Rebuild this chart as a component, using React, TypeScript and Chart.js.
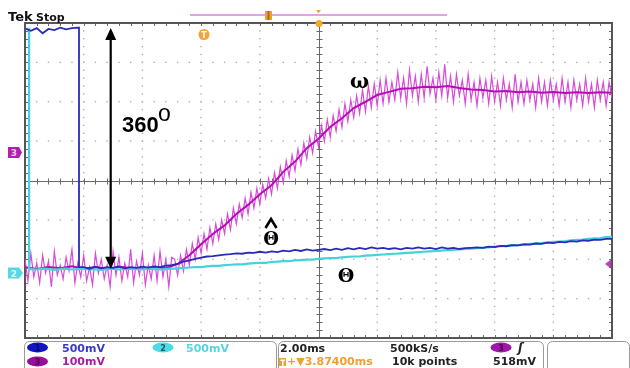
import React, { useEffect, useRef } from "react";
import { Chart, registerables } from "chart.js";

Chart.register(...registerables);

// ---- time base (divisions) ----
const TRACE_STEP = 0.1; // div per sample for ch1/ch2
const CH3_STEP = 0.05; // div per sample for raw ch3
const CH3_MEAN_STEP = 0.2; // div per sample for averaged ch3

// ---- Channel 1 (blue, 500mV/div) ----
const ch1Volts = [
  3.86, 3.8, 3.87, 3.74, 3.85, 3.82, 3.88, 3.84, 3.87, 3.88,
  -2.2, -2.24, -2.19, -2.23, -2.2, -2.22, -2.18, -2.23, -2.2, -2.22, -2.19, -2.21, -2.18, -2.2, -2.16, -2.15,
  -2.12, -2.06, -2.03, -1.99, -1.96, -1.93, -1.92, -1.9, -1.88, -1.87, -1.85, -1.86, -1.83, -1.84, -1.81, -1.83, -1.8, -1.82, -1.78, -1.8, -1.76, -1.79, -1.75, -1.78, -1.76,
  -1.74, -1.77, -1.73, -1.76, -1.72, -1.75, -1.71, -1.74, -1.7, -1.73, -1.71, -1.74, -1.72, -1.75, -1.71, -1.73, -1.7, -1.73, -1.71, -1.74, -1.7, -1.73, -1.71, -1.74, -1.72,
  -1.71, -1.7, -1.71, -1.68, -1.69, -1.66, -1.67, -1.64, -1.65, -1.62, -1.63, -1.6, -1.61, -1.58, -1.59, -1.56, -1.57, -1.54, -1.55, -1.52, -1.53, -1.5, -1.51, -1.48, -1.48,
];
const ch1Edge = [
  { x: 0.92, y: 3.88 },
  { x: 0.92, y: -2.2 },
];

// ---- Channel 2 (cyan, 500mV/div) ----
const ch2Volts = [
  3.85,
  -2.25, -2.26, -2.24, -2.25, -2.27, -2.25, -2.24, -2.26, -2.25, -2.24, -2.26, -2.25, -2.27, -2.25, -2.24, -2.26, -2.25, -2.24, -2.25, -2.26, -2.24, -2.25, -2.26, -2.25, -2.24,
  -2.24, -2.22, -2.21, -2.2, -2.2, -2.18, -2.17, -2.17, -2.15, -2.14,
  -2.13, -2.13, -2.11, -2.1, -2.09, -2.09, -2.07, -2.06, -2.05, -2.05,
  -2.03, -2.02, -2.01, -2.01, -1.99, -1.98, -1.97, -1.97, -1.95, -1.94,
  -1.93, -1.93, -1.91, -1.9, -1.89, -1.88, -1.87, -1.86, -1.85, -1.84,
  -1.83, -1.82, -1.81, -1.8, -1.79, -1.78, -1.77, -1.76, -1.75, -1.74,
  -1.73, -1.72, -1.71, -1.7, -1.68, -1.67, -1.66, -1.65, -1.64, -1.62,
  -1.61, -1.6, -1.59, -1.57, -1.56, -1.55, -1.54, -1.52, -1.51, -1.5,
  -1.48, -1.47, -1.46, -1.44, -1.43,
];
const ch2Edge = [
  { x: 0.07, y: 3.85 },
  { x: 0.07, y: -2.25 },
];

// ---- Channel 3 (magenta, 100mV/div) raw noisy samples ----
const ch3Raw = [
  -2.0, -2.55, -1.85, -2.45, -2.1, -2.6, -1.9, -2.35, -2.05, -2.7, -1.8, -2.4, -2.15, -2.5, -1.95, -2.3, -1.75, -2.6, -2.1, -2.45,
  -1.9, -2.55, -2.2, -2.65, -1.85, -2.35, -2.0, -2.5, -2.15, -2.7, -1.8, -2.4, -1.95, -2.55, -2.1, -2.45, -1.75, -2.6, -2.05, -2.4,
  -1.85, -2.65, -2.15, -2.5, -1.9, -2.55, -1.8, -2.45, -2.0, -2.7, -1.95,
  -2.0, -2.4, -1.9, -2.3, -1.75, -2.15, -1.6, -2.0, -1.45, -1.85, -1.35, -1.75, -1.2, -1.6, -1.1, -1.5, -1.0, -1.35, -0.85, -1.25,
  -0.7, -1.1, -0.6, -0.95, -0.45, -0.85, -0.3, -0.7, -0.2, -0.6, -0.1, -0.45, 0.05, -0.35, 0.2, -0.2, 0.35, -0.05, 0.5, 0.1,
  0.65, 0.25, 0.8, 0.4, 0.95, 0.55, 1.1, 0.7, 1.25, 0.85, 1.4, 1.0, 1.55, 1.1, 1.65, 1.25, 1.8, 1.35, 1.95, 1.5,
  2.05, 1.6, 2.15, 1.7, 2.3, 1.75, 2.4, 1.85, 2.45, 1.9,
  2.55, 1.95, 2.6, 2.0, 2.5, 2.05, 2.75, 2.1, 2.6, 1.95, 2.8, 2.15, 2.65, 2.0, 2.7, 2.1, 2.9, 2.2, 2.6, 2.05,
  2.75, 2.15, 2.95, 2.1, 2.65, 2.0, 2.7, 2.15, 2.55, 1.95, 2.7, 2.05, 2.5, 1.9, 2.6, 2.1, 2.55, 1.95, 2.65, 2.0,
  2.5, 1.9, 2.6, 2.05, 2.45, 1.85, 2.7, 2.0, 2.5, 1.95, 2.55, 2.05, 2.45, 1.85, 2.6, 2.0, 2.5, 1.9, 2.55, 2.05,
  2.45, 1.9, 2.6, 2.0, 2.5, 1.85, 2.55, 2.05, 2.45, 1.9, 2.6, 2.0, 2.45, 1.85, 2.55, 2.05, 2.5, 1.9, 2.5, 2.1,
];

// ---- Channel 3 averaged centre trace ----
const ch3Mean = [
  -2.2, -2.25, -2.2, -2.23, -2.18, -2.24, -2.2, -2.25, -2.19, -2.22, -2.24, -2.2, -2.23,
  -2.12, -1.9, -1.62, -1.36, -1.14, -0.85, -0.62, -0.35, -0.12, 0.22, 0.48, 0.82, 1.06,
  1.36, 1.58, 1.84, 2.0, 2.17, 2.25, 2.33, 2.34, 2.38, 2.37, 2.4, 2.35, 2.31, 2.3,
  2.26, 2.27, 2.24, 2.26, 2.23, 2.25, 2.22, 2.24, 2.22, 2.24, 2.23,
];

// ---- readout texts ----
const ch1Scale = "500mV";
const ch2Scale = "500mV";
const ch3Scale = "100mV";
const timeScale = "2.00ms";
const trigDelay = "+\u25BC3.87400ms";
const sampleRate = "500kS/s";
const recordLen = "10k points";
const trigLevel = "518mV";

const SANS = '"DejaVu Sans", sans-serif';

function buildTrace(values: number[], step: number, edge: { x: number; y: number }[] = []) {
  const pts = values.map((v, i) => ({ x: Math.round(i * step * 1000) / 1000, y: v }));
  if (!edge.length) return pts;
  const ex = edge[0].x;
  return [...pts.filter((p) => p.x < ex), ...edge, ...pts.filter((p) => p.x > ex)];
}

const scopePlugin = {
  id: "scope",
  beforeDraw(chart: any) {
    const { ctx, width, height } = chart;
    ctx.save();
    ctx.fillStyle = "#ffffff";
    ctx.fillRect(0, 0, width, height);
    ctx.restore();
  },
  beforeDatasetsDraw(chart: any) {
    const { ctx, chartArea: a, scales } = chart;
    const X = (v: number) => scales.x.getPixelForValue(v);
    const Y = (v: number) => scales.y.getPixelForValue(v);
    ctx.save();
    // dotted graticule
    ctx.fillStyle = "#b0b0b0";
    for (let i = 1; i < 10; i++) {
      if (i === 5) continue;
      const px = X(i);
      for (let k = -20; k <= 20; k++) ctx.fillRect(px - 0.7, Y(k * 0.2) - 0.7, 1.4, 1.4);
    }
    for (let j = -3; j <= 3; j++) {
      if (j === 0) continue;
      const py = Y(j);
      for (let k = 0; k <= 50; k++) ctx.fillRect(X(k * 0.2) - 0.7, py - 0.7, 1.4, 1.4);
    }
    // centre cross
    const cx = Math.round(X(5)) + 0.5;
    const cy = Math.round(Y(0)) + 0.5;
    ctx.strokeStyle = "#6a6a6a";
    ctx.lineWidth = 1;
    ctx.beginPath();
    ctx.moveTo(a.left, cy);
    ctx.lineTo(a.right, cy);
    ctx.moveTo(cx, a.top);
    ctx.lineTo(cx, a.bottom);
    for (let k = 0; k <= 50; k++) {
      const px = Math.round(X(k * 0.2)) + 0.5;
      ctx.moveTo(px, cy - 3);
      ctx.lineTo(px, cy + 3);
      ctx.moveTo(px, a.top);
      ctx.lineTo(px, a.top + 3);
      ctx.moveTo(px, a.bottom - 3);
      ctx.lineTo(px, a.bottom);
    }
    for (let k = -20; k <= 20; k++) {
      const py = Math.round(Y(k * 0.2)) + 0.5;
      ctx.moveTo(cx - 3, py);
      ctx.lineTo(cx + 3, py);
      ctx.moveTo(a.left, py);
      ctx.lineTo(a.left + 3, py);
      ctx.moveTo(a.right - 3, py);
      ctx.lineTo(a.right, py);
    }
    ctx.stroke();
    // border
    ctx.strokeStyle = "#555";
    ctx.lineWidth = 2;
    ctx.strokeRect(a.left, a.top, a.right - a.left, a.bottom - a.top);
    ctx.restore();
  },
  afterDatasetsDraw(chart: any) {
    const { ctx, chartArea: a, scales } = chart;
    const X = (v: number) => scales.x.getPixelForValue(v);
    const Y = (v: number) => scales.y.getPixelForValue(v);
    ctx.save();

    // ---- double arrow ----
    const ax = X(1.46);
    const topTip = Y(3.87);
    const botTip = Y(-2.24);
    ctx.strokeStyle = "#000";
    ctx.fillStyle = "#000";
    ctx.lineWidth = 2.2;
    ctx.beginPath();
    ctx.moveTo(ax, topTip + 8);
    ctx.lineTo(ax, botTip - 8);
    ctx.stroke();
    ctx.beginPath();
    ctx.moveTo(ax, topTip);
    ctx.lineTo(ax - 5.5, topTip + 12);
    ctx.lineTo(ax + 5.5, topTip + 12);
    ctx.closePath();
    ctx.fill();
    ctx.beginPath();
    ctx.moveTo(ax, botTip);
    ctx.lineTo(ax - 5.5, botTip - 12);
    ctx.lineTo(ax + 5.5, botTip - 12);
    ctx.closePath();
    ctx.fill();

    // ---- trace labels ----
    ctx.textBaseline = "alphabetic";
    ctx.textAlign = "left";
    ctx.font = 'bold 22px "Liberation Sans", sans-serif';
    ctx.fillText("360", 122, 132);
    ctx.font = '23px "Liberation Sans", sans-serif';
    ctx.fillText("o", 158, 121);

    ctx.font = 'bold 20px "DejaVu Serif", serif';
    ctx.fillText("\u03C9", 350, 88);

    ctx.textAlign = "center";
    ctx.font = 'bold 18px "DejaVu Serif", serif';
    ctx.fillText("\u0398", 271, 245);
    ctx.font = 'bold 19px "DejaVu Serif", serif';
    ctx.fillText("\u0398", 346, 282);
    ctx.lineWidth = 2.6;
    ctx.beginPath();
    ctx.moveTo(265.5, 228);
    ctx.lineTo(271, 219);
    ctx.lineTo(276.5, 228);
    ctx.stroke();

    // ---- header ----
    ctx.textAlign = "left";
    ctx.fillStyle = "#111";
    ctx.font = `bold 13px ${SANS}`;
    ctx.fillText("Tek", 8, 21);
    ctx.font = `bold 11px ${SANS}`;
    ctx.fillText("Stop", 36, 21);

    // record bar
    ctx.strokeStyle = "#e4a2e4";
    ctx.lineWidth = 2;
    ctx.beginPath();
    ctx.moveTo(190, 15);
    ctx.lineTo(447, 15);
    ctx.stroke();
    ctx.fillStyle = "#e8a23a";
    ctx.fillRect(265, 11, 7, 9);
    ctx.fillStyle = "#b06a10";
    ctx.fillRect(267.5, 11, 2, 9);
    // trigger position markers
    const tx = X(5);
    ctx.fillStyle = "#f0a830";
    ctx.beginPath();
    ctx.moveTo(tx - 2.5, 10);
    ctx.lineTo(tx + 2.5, 10);
    ctx.lineTo(tx, 13.5);
    ctx.closePath();
    ctx.fill();
    ctx.beginPath();
    ctx.arc(tx + 0.5, a.top + 0.5, 3.5, 0, Math.PI * 2);
    ctx.fill();
    // T badge
    ctx.fillStyle = "#f2a53a";
    ctx.beginPath();
    ctx.arc(X(3.05), 34.5, 5.5, 0, Math.PI * 2);
    ctx.fill();
    ctx.fillStyle = "#fff";
    ctx.font = `bold 8px ${SANS}`;
    ctx.textAlign = "center";
    ctx.fillText("T", X(3.05), 37.5);

    // ---- channel ground markers (left) ----
    const m3 = Y(0.71);
    ctx.fillStyle = "#b01fb0";
    ctx.beginPath();
    ctx.moveTo(8, m3 - 5.5);
    ctx.lineTo(19, m3 - 5.5);
    ctx.lineTo(22, m3);
    ctx.lineTo(19, m3 + 5.5);
    ctx.lineTo(8, m3 + 5.5);
    ctx.closePath();
    ctx.fill();
    ctx.fillStyle = "#f4c8f4";
    ctx.font = `bold 9px ${SANS}`;
    ctx.fillText("3", 14, m3 + 3.5);

    const m2 = Y(-2.35);
    ctx.fillStyle = "#55d8e2";
    ctx.beginPath();
    ctx.moveTo(8, m2 - 5.5);
    ctx.lineTo(19, m2 - 5.5);
    ctx.lineTo(23, m2);
    ctx.lineTo(19, m2 + 5.5);
    ctx.lineTo(8, m2 + 5.5);
    ctx.closePath();
    ctx.fill();
    ctx.fillStyle = "#e8fbfc";
    ctx.fillText("2", 14, m2 + 3.5);

    // trigger level marker (right)
    const tl = Y(-2.12);
    ctx.fillStyle = "#c03cc0";
    ctx.beginPath();
    ctx.moveTo(a.right - 7, tl);
    ctx.lineTo(a.right - 1, tl - 4.5);
    ctx.lineTo(a.right - 1, tl + 4.5);
    ctx.closePath();
    ctx.fill();

    // ---- readout panel ----
    ctx.strokeStyle = "#9a9a9a";
    ctx.lineWidth = 1;
    const box = (x0: number, w: number) => {
      ctx.beginPath();
      (ctx as any).roundRect(x0 + 0.5, 341.5, w, 40, 5);
      ctx.stroke();
    };
    box(24, 252);
    box(278, 265);
    box(547, 82);

    const oval = (cx: number, cy: number, fill: string, label: string, lc: string) => {
      ctx.fillStyle = fill;
      ctx.beginPath();
      ctx.ellipse(cx, cy, 10.5, 5, 0, 0, Math.PI * 2);
      ctx.fill();
      ctx.fillStyle = lc;
      ctx.font = `bold 8px ${SANS}`;
      ctx.textAlign = "center";
      ctx.fillText(label, cx, cy + 3);
    };
    oval(37.5, 347.5, "#1414c4", "1", "#0a0a70");
    oval(37.5, 361.5, "#9a0c9a", "3", "#4a004a");
    oval(163, 347.5, "#4ddbe6", "2", "#1a5a62");
    oval(501, 347.5, "#a016a8", "3", "#500058");

    ctx.textAlign = "left";
    ctx.font = `bold 11px ${SANS}`;
    ctx.fillStyle = "#3838c8";
    ctx.fillText(ch1Scale, 62, 352);
    ctx.fillStyle = "#a21ea2";
    ctx.fillText(ch3Scale, 62, 365);
    ctx.fillStyle = "#58d4e0";
    ctx.fillText(ch2Scale, 186, 352);
    ctx.fillStyle = "#222";
    ctx.fillText(timeScale, 280, 352);
    ctx.fillText(sampleRate, 390, 352);
    ctx.fillText(recordLen, 392, 365);
    ctx.fillText(trigLevel, 493, 365);
    ctx.font = `bold italic 12px ${SANS}`;
    ctx.fillText("\u0283", 518, 352);
    // delay
    ctx.fillStyle = "#f0a030";
    ctx.fillRect(279, 358, 7, 8);
    ctx.fillStyle = "#fff";
    ctx.fillRect(282, 360, 1.5, 6);
    ctx.fillRect(280.5, 359.5, 4.5, 1.5);
    ctx.fillStyle = "#f0a030";
    ctx.font = `bold 11px ${SANS}`;
    ctx.fillText(trigDelay, 287, 365);

    ctx.restore();
  },
};

export default function App() {
  const ref = useRef<HTMLCanvasElement | null>(null);
  useEffect(() => {
    if (!ref.current) return;
    const chart = new Chart(ref.current, {
      type: "line",
      data: {
        datasets: [
          {
            label: "CH1",
            data: buildTrace(ch1Volts, TRACE_STEP, ch1Edge),
            borderColor: "#2a2ab8",
            borderWidth: 1.8,
            order: 0,
          },
          {
            label: "CH2",
            data: buildTrace(ch2Volts, TRACE_STEP, ch2Edge),
            borderColor: "#45d3da",
            borderWidth: 2.2,
            order: 1,
          },
          {
            label: "CH3 avg",
            data: buildTrace(ch3Mean, CH3_MEAN_STEP),
            borderColor: "#b80cb8",
            borderWidth: 2,
            order: 2,
          },
          {
            label: "CH3",
            data: buildTrace(ch3Raw, CH3_STEP),
            borderColor: "#d84ad8",
            borderWidth: 1.2,
            order: 3,
          },
        ],
      },
      options: {
        animation: false,
        responsive: false,
        layout: { padding: { left: 25, right: 18, top: 23, bottom: 30 } },
        elements: { point: { radius: 0 }, line: { tension: 0 } },
        scales: {
          x: { type: "linear", min: 0, max: 10, display: false },
          y: { type: "linear", min: -4, max: 4, display: false },
        },
        plugins: { legend: { display: false }, tooltip: { enabled: false } },
      },
      plugins: [scopePlugin],
    });
    return () => chart.destroy();
  }, []);
  return (
    <div style={{ position: "absolute", left: 0, top: 0, width: 630, height: 368 }}>
      <canvas ref={ref} width={630} height={368} />
    </div>
  );
}
